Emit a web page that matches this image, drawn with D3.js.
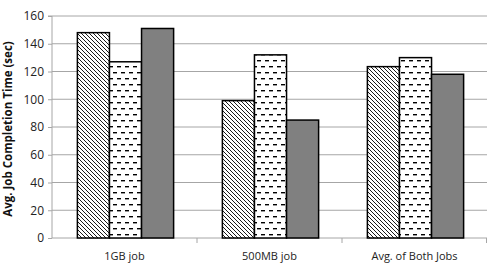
<!DOCTYPE html>
<html><head><meta charset="utf-8">
<script src="https://cdn.jsdelivr.net/npm/d3@7"></script>
<style>body{margin:0;background:#fff}svg{display:block}text{font-family:"Open Sans","Liberation Sans",sans-serif}</style>
</head><body><svg id="c" width="489" height="266"></svg>
<script>
const categories = ["1GB job", "500MB job", "Avg. of Both Jobs"];
const seriesA = [148, 99, 123.5];
const seriesB = [127, 132, 130];
const seriesC = [151, 85, 118];
const yTicks = [0, 20, 40, 60, 80, 100, 120, 140, 160];
const yLabel = "Avg. Job Completion Time (sec)";

const svg = d3.select("#c");
const m = {l: 52, r: 2, t: 16, b: 28};
const W = 489, H = 266;
const x0 = d3.scaleBand().domain(categories).range([m.l, W - m.r]).paddingInner(0).paddingOuter(0);
const y = d3.scaleLinear().domain([0, 160]).range([238, 16]);

const defs = svg.append("defs");
const pd = defs.append("pattern").attr("id", "diag").attr("patternUnits", "userSpaceOnUse").attr("width", 4).attr("height", 4);
pd.append("rect").attr("width", 4).attr("height", 4).attr("fill", "#fff");
pd.append("path").attr("d", "M-1,-1L5,5M-1,3L1,5M3,-1L5,1").attr("stroke", "#000").attr("stroke-width", 0.9);
const ph = defs.append("pattern").attr("id", "dash").attr("patternUnits", "userSpaceOnUse").attr("width", 8).attr("height", 12);
ph.append("rect").attr("width", 8).attr("height", 12).attr("fill", "#fff");
ph.append("rect").attr("x", 1).attr("y", 0).attr("width", 4).attr("height", 1.4).attr("fill", "#000");
ph.append("rect").attr("x", 5).attr("y", 6).attr("width", 4).attr("height", 1.4).attr("fill", "#000");
ph.append("rect").attr("x", -3).attr("y", 6).attr("width", 4).attr("height", 1.4).attr("fill", "#000");

// gridlines
svg.append("g").selectAll("line").data(yTicks.filter(d => d > 0)).join("line")
  .attr("x1", m.l).attr("x2", W - m.r).attr("y1", d => y(d)).attr("y2", d => y(d))
  .attr("stroke", "#a6a6a6").attr("stroke-width", 1);

// y axis
const ya = svg.append("g").attr("transform", `translate(${m.l},0)`)
  .call(d3.axisLeft(y).tickValues(yTicks).tickSize(4).tickPadding(4));
ya.select(".domain").attr("stroke", "#a6a6a6").attr("d", `M-4,${y(160)}H0V${y(0)}`);
ya.selectAll(".tick line").attr("stroke", "#a6a6a6");
ya.selectAll(".tick text").attr("font-size", 12).attr("fill", "#222").attr("font-family", '"Open Sans",sans-serif');

// x axis
const xa = svg.append("g").attr("transform", `translate(0,${y(0)})`)
  .call(d3.axisBottom(x0).tickSize(0).tickPadding(14));
xa.select(".domain").attr("stroke", "#a6a6a6").attr("d", `M${m.l},0H${W - m.r}`);
xa.selectAll(".tick text").attr("font-size", 11).attr("fill", "#222").attr("font-family", '"Open Sans",sans-serif');
svg.append("g").selectAll("line").data(categories.slice(1).concat([null])).join("line")
  .attr("x1", (d, i) => i < 2 ? x0(d) : W - m.r - 0.5).attr("x2", (d, i) => i < 2 ? x0(d) : W - m.r - 0.5)
  .attr("y1", y(0)).attr("y2", y(0) + 5).attr("stroke", "#a6a6a6");

// bars
const series = [{v: seriesA, fill: "url(#diag)"}, {v: seriesB, fill: "url(#dash)"}, {v: seriesC, fill: "#808080"}];
const x1 = d3.scaleBand().domain([0, 1, 2]).range([0, x0.bandwidth()]).paddingOuter(0.76).paddingInner(0);
const bars = [];
series.forEach((s, si) => categories.forEach((c, ci) => bars.push({c, si, v: s.v[ci], fill: s.fill})));
svg.append("g").selectAll("rect").data(bars).join("rect")
  .attr("x", d => x0(d.c) + x1(d.si) + 1).attr("width", x1.bandwidth())
  .attr("y", d => y(d.v)).attr("height", d => y(0) - y(d.v))
  .attr("fill", d => d.fill).attr("stroke", "#000").attr("stroke-width", 1.5);

// y label
svg.append("text").attr("transform", `translate(12,${(y(0) + y(160)) / 2 + 2}) rotate(-90)`)
  .attr("text-anchor", "middle").attr("font-size", 11.5).attr("font-weight", "bold").attr("fill", "#111")
  .text(yLabel);
</script></body></html>
